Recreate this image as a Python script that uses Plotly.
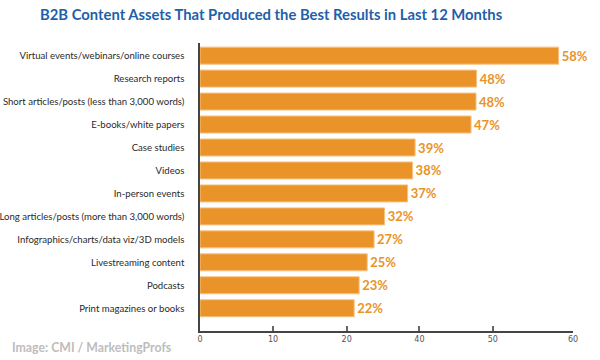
import plotly.graph_objects as go

categories = [
    "Virtual events/webinars/online courses",
    "Research reports",
    "Short articles/posts (less than 3,000 words)",
    "E-books/white papers",
    "Case studies",
    "Videos",
    "In-person events",
    "Long articles/posts (more than 3,000 words)",
    "Infographics/charts/data viz/3D models",
    "Livestreaming content",
    "Podcasts",
    "Print magazines or books",
]
# percentages printed on the chart
pct_labels = [58, 48, 48, 47, 39, 38, 37, 32, 27, 25, 23, 22]
# bar lengths as drawn, read against the axis
bar_lengths = [57.7, 44.5, 44.4, 43.6, 34.6, 34.2, 33.4, 29.7, 28.0, 26.9, 25.6, 24.8]
# axis ticks as drawn
tick_vals = [0, 11.75, 23.6, 35.3, 47.1, 60]
tick_text = ["0", "10", "20", "40", "50", "60"]

ORANGE = "#E99328"

fig = go.Figure(
    go.Bar(
        x=bar_lengths,
        y=categories,
        orientation="h",
        marker=dict(color=ORANGE, line=dict(color="#F6C283", width=1)),
        width=0.74,
        text=[f"{v}%" for v in pct_labels],
        textposition="outside",
        textfont=dict(family="Lato", size=13, color=ORANGE, weight="bold"),
        cliponaxis=False,
        hoverinfo="skip",
    )
)

fig.update_layout(
    width=600,
    height=360,
    margin=dict(l=200, r=27, t=43, b=29, autoexpand=False),
    paper_bgcolor="white",
    plot_bgcolor="white",
    showlegend=False,
    title=dict(
        text="<b>B2B Content Assets That Produced the Best Results in Last 12 Months</b>",
        xref="container",
        x=40 / 600,
        xanchor="left",
        yref="container",
        y=1 - 15 / 360,
        yanchor="middle",
        font=dict(family="Lato", size=14.8, color="#1F5FAA"),
    ),
    font=dict(family="Lato"),
)

fig.update_xaxes(
    range=[0, 60],
    tickvals=tick_vals,
    ticktext=tick_text,
    ticks="inside",
    ticklen=5,
    tickwidth=1.5,
    tickcolor="#666",
    tickfont=dict(family="DejaVu Sans", size=8, color="#555"),
    showgrid=False,
    zeroline=False,
    showline=True,
    linecolor="#444",
    linewidth=1.5,
    automargin=False,
    fixedrange=True,
)

fig.update_yaxes(
    categoryorder="array",
    categoryarray=categories,
    range=[11.99, -0.55],
    showgrid=False,
    zeroline=False,
    showline=True,
    linecolor="#444",
    linewidth=1.5,
    ticks="",
    ticklabelstandoff=12,
    tickfont=dict(family="Lato", size=9.6, color="#2A2A2A"),
    automargin=False,
    fixedrange=True,
)

fig.add_annotation(
    text="<b>Image: CMI / MarketingProfs</b>",
    xref="paper", yref="paper",
    x=-190 / 373, y=-16 / 288,
    xanchor="left", yanchor="middle",
    showarrow=False,
    font=dict(family="Lato", size=12.3, color="#BDBDBD"),
)

fig.write_html(
    "out.html",
    config={"displayModeBar": False},
    post_script="document.body.style.margin='0';",
)
